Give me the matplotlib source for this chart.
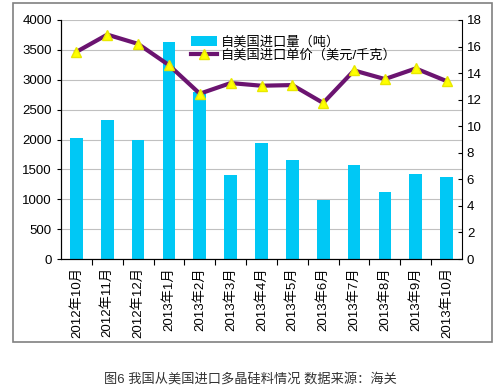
import matplotlib
matplotlib.use("Agg")
import matplotlib.pyplot as plt
from matplotlib.patches import Rectangle

plt.rcParams['font.family'] = ['Liberation Sans', 'Noto Sans CJK SC', 'DejaVu Sans']

months = ["2012年10月", "2012年11月", "2012年12月", "2013年1月", "2013年2月",
          "2013年3月", "2013年4月", "2013年5月", "2013年6月", "2013年7月",
          "2013年8月", "2013年9月", "2013年10月"]
volume = [2030, 2326, 1992, 3627, 2790, 1406, 1936, 1657, 987, 1568, 1126, 1428, 1372]
price = [15.6, 16.9, 16.2, 14.6, 12.45, 13.25, 13.05, 13.1, 11.75, 14.2, 13.55, 14.35, 13.4]

vol_label = "自美国进口量（吨）"
price_label = "自美国进口单价（美元/千克）"
caption = "图6 我国从美国进口多晶硅料情况 数据来源：海关"

fig = plt.figure(figsize=(5, 3.91), dpi=100)

# outer chart frame
fig.patches.append(Rectangle((13 / 500, 1 - 342 / 391), 479 / 500, 339 / 391,
                             transform=fig.transFigure, fill=False,
                             edgecolor="#808080", linewidth=1.2))

ax = fig.add_axes([61 / 500, 1 - 259 / 391, 401 / 500, 239 / 391])
x = list(range(len(months)))
ax.bar(x, volume, width=0.41, color="#00C8F5", label=vol_label, zorder=2)
ax.set_ylim(0, 4000)
ax.set_yticks(range(0, 4001, 500))
ax.set_xlim(-0.5, len(months) - 0.5)
ax.grid(axis="y", color="#C0C0C0", linewidth=0.8, zorder=0)
ax.set_xticks([i + 0.5 for i in x[:-1]], minor=False)
ax.set_xticklabels([])
ax.set_xticks(x, minor=True)
ax.set_xticklabels(months, minor=True, rotation=90, fontsize=9.5)
ax.tick_params(axis="x", which="minor", length=0, pad=6)
ax.tick_params(axis="x", which="major", length=4, direction="out")
ax.tick_params(axis="y", labelsize=9.5, length=3)
for side in ["top", "right"]:
    ax.spines[side].set_visible(False)

ax2 = ax.twinx()
ax2.plot(x, price, color="#6B1470", linewidth=3, marker="^", markersize=7,
         markerfacecolor="#FFFF00", markeredgecolor="#E8E800", label=price_label, zorder=3)
ax2.set_ylim(0, 18)
ax2.set_yticks(range(0, 19, 2))
ax2.tick_params(axis="y", labelsize=9.5, length=3, direction="in")
ax2.spines["top"].set_visible(False)

h1, l1 = ax.get_legend_handles_labels()
h2, l2 = ax2.get_legend_handles_labels()
ax2.legend(h1 + h2, l1 + l2, loc="upper left", bbox_to_anchor=(0.31, 0.955),
           frameon=False, fontsize=9.5, handlelength=2.0, handletextpad=0.3,
           labelspacing=0.05, borderaxespad=0, numpoints=1)

fig.text(0.5, 1 - 379 / 391, caption, ha="center", va="center",
         fontsize=9.5, color="#333333")

fig.savefig("out.png", dpi=100)
